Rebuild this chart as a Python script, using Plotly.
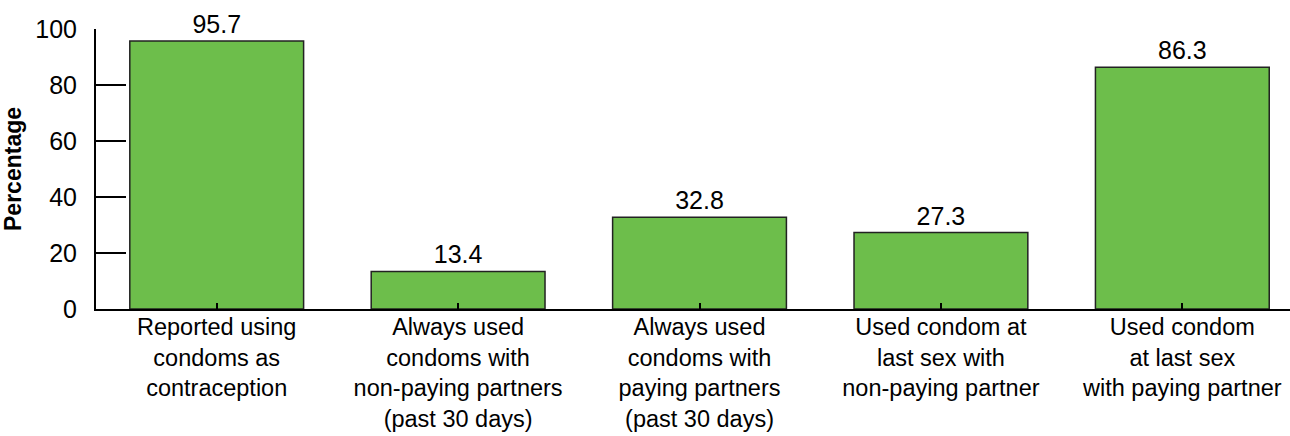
import plotly.graph_objects as go

categories = [
    "Reported using<br>condoms as<br>contraception",
    "Always used<br>condoms with<br>non-paying partners<br>(past 30 days)",
    "Always used<br>condoms with<br>paying partners<br>(past 30 days)",
    "Used condom at<br>last sex with<br>non-paying partner",
    "Used condom<br>at last sex<br>with paying partner",
]
values = [95.7, 13.4, 32.8, 27.3, 86.3]
value_labels = ["95.7", "13.4", "32.8", "27.3", "86.3"]
y_ticks = [0, 20, 40, 60, 80, 100]

FONT = "Liberation Sans"

fig = go.Figure(
    go.Bar(
        x=list(range(len(categories))),
        y=values,
        width=0.72,
        marker=dict(color="#6dbe4b", line=dict(color="#222222", width=1.5)),
        text=value_labels,
        textposition="outside",
        textfont=dict(family=FONT, size=25, color="black"),
        cliponaxis=False,
    )
)

fig.update_layout(
    width=1290,
    height=436,
    margin=dict(l=96, r=0, t=29, b=127),
    plot_bgcolor="white",
    paper_bgcolor="white",
    showlegend=False,
    font=dict(family=FONT, size=25, color="black"),
)

fig.update_xaxes(
    range=[-0.5, 4.446],
    tickmode="array",
    tickvals=list(range(len(categories))),
    ticktext=categories,
    tickson="boundaries",
    ticks="inside",
    ticklen=6,
    tickwidth=2,
    tickcolor="black",
    showline=True,
    linecolor="black",
    linewidth=2,
    showgrid=False,
    zeroline=False,
    automargin=False,
    ticklabelstandoff=-4,
    tickfont=dict(family=FONT, size=23.5, color="black"),
    tickangle=0,
)

fig.update_yaxes(
    range=[0, 100],
    tickmode="array",
    tickvals=y_ticks,
    ticktext=[str(v) for v in y_ticks],
    ticks="inside",
    ticklen=30,
    tickwidth=2,
    tickcolor="black",
    showline=True,
    linecolor="black",
    linewidth=2,
    showgrid=False,
    zeroline=False,
    automargin=False,
    ticklabelstandoff=12,
    tickfont=dict(family=FONT, size=25, color="black"),
    title=dict(text="<b>Percentage</b>", font=dict(family=FONT, size=23, color="black"), standoff=9),
)

fig.write_html("out.html")
